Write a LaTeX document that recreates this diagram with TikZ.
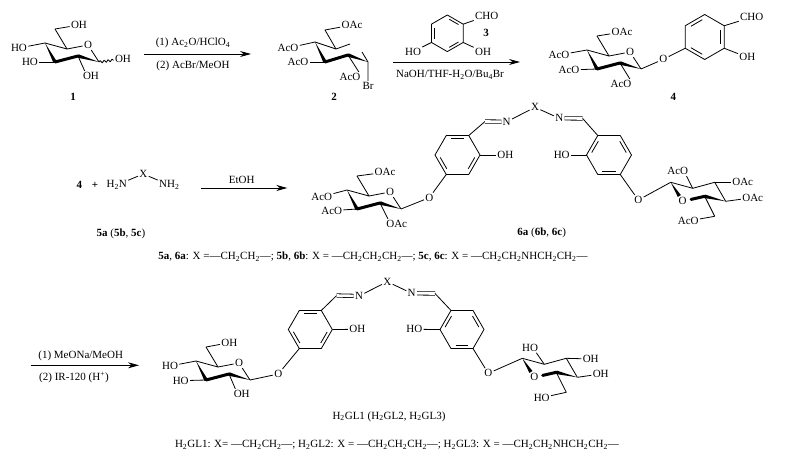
\documentclass[tikz,border=0pt]{standalone}
\usepackage{fontspec}
\setmainfont{Liberation Serif}
\usepackage{tikz}
\usetikzlibrary{calc,arrows.meta,decorations.pathmorphing}
\newcommand{\sbs}[1]{\textsubscript{#1}}
\tikzset{
	atom/.style={draw=none,font=\fontsize{11}{13}\selectfont,inner sep=1pt},
	tag/.style={draw=none,font=\fontsize{11}{13}\selectfont\bfseries,inner sep=1pt},
	caption/.style={draw=none,font=\fontsize{11}{13}\selectfont,inner sep=0pt},
	directed/.style={arrows={-Stealth[length=11pt,width=6pt]},line width=.9pt},
	wavy/.style={decorate,decoration={snake,amplitude=1.2pt,segment length=4pt}},
	thickbond/.style={line width=3pt,line cap=round},
	doublebond/.style={double,double distance=2.6pt,line width=.8pt}
}
\newcommand{\wedgebond}[2]{\fill (#1) -- ($(#2)!1.8pt!90:(#1)$) -- ($(#2)!1.8pt!-90:(#1)$) -- cycle;}
\newcommand{\aryl}[5]{
	\coordinate (#1c) at (#2);
	\foreach \i in {1,...,6} \coordinate (#1\i) at ($(#1c)+(#3+60*\i:#4)$);
	\draw (#11) -- (#12) -- (#13) -- (#14) -- (#15) -- (#16) -- cycle;
	\foreach \m/\n in {#5} \draw ($(#1\m)!.15!(#1\n)!.17!(#1c)$) -- ($(#1\n)!.15!(#1\m)!.17!(#1c)$);
}
\newcommand{\sugar}[2]{
	\coordinate (#1c3) at (#2);
	\coordinate (#1c4) at ($(#2)+(-10,-19)$);
	\coordinate (#1c5) at ($(#2)+(12,-13)$);
	\coordinate (#1c1) at ($(#2)+(44,0)$);
	\coordinate (#1c2) at ($(#2)+(23,-6)$);
	\coordinate (#1ch) at ($(#2)+(0,-33)$);
	\node[atom] (#1o) at ($(#2)+(33,-17)$) {O};
	\draw (#1c4) -- (#1c5) -- (#1o) -- (#1c1);
	\draw (#1c5) -- (#1ch);
	\wedgebond{#1c4}{#1c3}
	\wedgebond{#1c1}{#1c2}
	\draw[thickbond] (#1c2) -- (#1c3);
}
\newcommand{\sugarflip}[2]{
	\coordinate (#1a) at (#2);
	\coordinate (#1b) at ($(#2)+(22,6)$);
	\coordinate (#1c) at ($(#2)+(44,0)$);
	\coordinate (#1d) at ($(#2)+(55,19)$);
	\coordinate (#1e) at ($(#2)+(34,14)$);
	\coordinate (#1ch) at ($(#2)+(44,34)$);
	\node[atom] (#1o) at ($(#2)+(12,19)$) {O};
	\coordinate (#1w) at ($(#1a)!.72!(#1o)$);
	\coordinate (#1t) at ($(#1o)!.38!(#1e)$);
	\draw (#1a) -- (#1b) -- (#1c) -- (#1d);
	\draw (#1e) -- (#1ch);
	\wedgebond{#1a}{#1w}
	\wedgebond{#1d}{#1e}
	\draw[thickbond] (#1t) -- (#1e);
}

\begin{document}
\begin{tikzpicture}[x=1pt,y=-1pt,line width=.8pt,line join=round]
	\useasboundingbox (0,0) rectangle (787,460);

	\sugar{sa}{55,62}
	\node[atom] (saoh) at (79,25) {OH};
	\node[atom] (sao4) at (19,48) {HO};
	\node[atom] (sao3) at (30,62) {HO};
	\node[atom] (sao2) at (91,76) {OH};
	\node[atom] (sao1) at (123,59) {OH};
	\node[tag] (lab1) at (73,97) {1};
	\draw (sach) -- (saoh);
	\draw (sac4) -- (sao4);
	\draw (sac3) -- (sao3);
	\draw (sac2) -- ([xshift=3pt]sao2.north west);
	\draw[wavy] (sac1) -- (sao1);

	\coordinate (ar1s) at (144,54);
	\coordinate (ar1e) at (251,54);
	\draw[directed] (ar1s) -- (ar1e);
	\node[atom] (ar1u) at (193,43) {(1) Ac\sbs{2}O/HClO\sbs{4}};
	\node[atom] (ar1d) at (193,66) {(2) AcBr/MeOH};

	\coordinate (bc3) at (325,62);
	\coordinate (bc4) at (315,42);
	\coordinate (bc5) at (336,49);
	\coordinate (bc2) at (348,55);
	\coordinate (bc1) at (368,62);
	\coordinate (bx5) at (350,44);
	\coordinate (bx1) at (362,52);
	\coordinate (bch) at (325,30);
	\node[atom] (boac) at (352,25) {OAc};
	\node[atom] (bo4) at (288,48) {AcO};
	\node[atom] (bo3) at (298,62) {AcO};
	\node[atom] (bo2) at (350,77) {AcO};
	\node[atom] (bbr) at (368,86) {Br};
	\node[tag] (lab2) at (334,97) {2};
	\draw (bc4) -- (bc5) -- (bx5);
	\draw (bc5) -- (bch) -- (boac);
	\draw (bx1) -- (bc1) -- (bbr);
	\wedgebond{bc4}{bc3}
	\wedgebond{bc1}{bc2}
	\draw[thickbond] (bc2) -- (bc3);
	\draw (bc4) -- (bo4);
	\draw (bc3) -- (bo3);
	\draw (bc2) -- ([xshift=-3pt]bo2.north east);

	\aryl{ra}{447.3,33.3}{-30}{18.3}{3/4,5/6,1/2}
	\node[atom] (racho) at (486.7,16) {CHO};
	\node[atom] (raho) at (413,51.7) {HO};
	\node[atom] (raoh) at (483,51.7) {OH};
	\node[tag] (lab3) at (486,33) {3};
	\draw (ra6) -- (racho);
	\draw (ra3) -- (raho);
	\draw (ra1) -- (raoh);

	\coordinate (ar2s) at (393,62);
	\coordinate (ar2e) at (520,62);
	\draw[directed] (ar2s) -- (ar2e);
	\node[atom] (ar2d) at (450,75) {NaOH/THF-H\sbs{2}O/Bu\sbs{4}Br};

	\sugar{sb}{597,69}
	\node[atom] (sboac) at (622,32) {OAc};
	\node[atom] (sbo4) at (559,55) {AcO};
	\node[atom] (sbo3) at (569,70) {AcO};
	\node[atom] (sbo2) at (621,84) {AcO};
	\node[atom] (sbol) at (663.3,59.3) {O};
	\draw (sbch) -- (sboac);
	\draw (sbc4) -- (sbo4);
	\draw (sbc3) -- (sbo3);
	\draw (sbc2) -- ([xshift=-3pt]sbo2.north east);
	\draw (sbc1) -- (sbol);
	\aryl{rb}{704.7,37}{-30}{22.5}{4/5,6/1,2/3}
	\node[atom] (rbcho) at (751.7,17.3) {CHO};
	\node[atom] (rboh) at (747.3,57.3) {OH};
	\node[tag] (lab4) at (673.3,97.3) {4};
	\draw (sbol) -- (rb3);
	\draw (rb6) -- (rbcho);
	\draw (rb1) -- (rboh);

	\node[tag] (lab4b) at (79.3,185) {4};
	\node[tag] (plus) at (95,185) {+};
	\node[atom] (dian) at (116.7,185) {H\sbs{2}N};
	\node[atom] (diax) at (143.3,174) {X};
	\node[atom] (diam) at (169.3,185) {NH\sbs{2}};
	\draw (dian) -- (diax) -- (diam);
	\node[atom] (lab5) at (121,234) {\textbf{5a} (\textbf{5b}, \textbf{5c})};

	\coordinate (ar3s) at (201.3,188);
	\coordinate (ar3e) at (287.3,188);
	\draw[directed] (ar3s) -- (ar3e);
	\node[atom] (ar3u) at (241.7,180) {EtOH};

	\sugar{sc}{357,209}
	\node[atom] (scoac) at (385,172.3) {OAc};
	\node[atom] (sco4) at (321.7,196.7) {AcO};
	\node[atom] (sco3) at (331.7,210.7) {AcO};
	\node[atom] (sco2) at (396.7,224) {OAc};
	\node[atom] (scol) at (429.3,197.7) {O};
	\draw (scch) -- (scoac);
	\draw (scc4) -- (sco4);
	\draw (scc3) -- (sco3);
	\draw (scc2) -- ([xshift=3pt]sco2.north west);
	\draw (scc1) -- (scol);
	\aryl{rc}{457.5,155}{0}{22.5}{3/2,1/6,4/5}
	\node[atom] (rcoh) at (505.3,155) {OH};
	\node[atom] (rcn) at (506.7,121.7) {N};
	\coordinate (rcch) at (485,121.5);
	\draw (scol) -- (rc2);
	\draw (rc6) -- (rcoh);
	\draw (rc5) -- (rcch);
	\draw[doublebond] (rcch) -- (rcn);

	\node[atom] (linkc) at (535,107.3) {X};
	\draw (rcn) -- (linkc);

	\aryl{rd}{609,155}{0}{22.5}{3/4,5/6,2/1}
	\node[atom] (rdho) at (561.7,155) {HO};
	\node[atom] (rdn) at (559.3,118.3) {N};
	\coordinate (rdch) at (582.7,118.5);
	\draw (linkc) -- (rdn);
	\draw[doublebond] (rdn) -- (rdch);
	\draw (rdch) -- (rd4);
	\draw (rd3) -- (rdho);
	\node[atom] (rdol) at (638.3,200) {O};
	\draw (rd1) -- (rdol);

	\sugarflip{sd}{670.7,182.3}
	\node[atom] (sdo1) at (677.7,171) {AcO};
	\node[atom] (sdo2) at (742.7,182.3) {OAc};
	\node[atom] (sdo3) at (752.7,197.7) {OAc};
	\node[atom] (sdoac) at (688.3,221) {AcO};
	\draw (rdol) -- (sda);
	\draw (sdb) -- ([xshift=-3pt]sdo1.south east);
	\draw (sdc) -- (sdo2);
	\draw (sdd) -- (sdo3);
	\draw (sdch) -- (sdoac);
	\node[atom] (lab6) at (541.7,233.3) {\textbf{6a} (\textbf{6b}, \textbf{6c})};
	\node[caption] (cap1) at (373,257) {\textbf{5a}, \textbf{6a}: X =—CH\sbs{2}CH\sbs{2}—; \textbf{5b}, \textbf{6b}: X = —CH\sbs{2}CH\sbs{2}CH\sbs{2}—; \textbf{5c}, \textbf{6c}: X = —CH\sbs{2}CH\sbs{2}NHCH\sbs{2}CH\sbs{2}—};

	\coordinate (ar4s) at (30.7,365.3);
	\coordinate (ar4e) at (139,365.3);
	\draw[directed] (ar4s) -- (ar4e);
	\node[atom] (ar4u) at (80.7,355.7) {(1) MeONa/MeOH};
	\node[atom] (ar4d) at (74,377.3) {(2) IR-120 (H\textsuperscript{+})};

	\sugar{se}{206,380}
	\node[atom] (seoh) at (229.3,342.7) {OH};
	\node[atom] (seo4) at (170,366) {HO};
	\node[atom] (seo3) at (180.7,380.7) {HO};
	\node[atom] (seo2) at (241.7,394) {OH};
	\node[atom] (seol) at (278.3,374) {O};
	\draw (sech) -- (seoh);
	\draw (sec4) -- (seo4);
	\draw (sec3) -- (seo3);
	\draw (sec2) -- ([xshift=3pt]seo2.north west);
	\draw (sec1) -- (seol);
	\aryl{re}{310.3,329.5}{0}{22}{3/2,1/6,4/5}
	\node[atom] (reoh) at (357.3,329.3) {OH};
	\node[atom] (ren) at (359,296) {N};
	\coordinate (rech) at (336.7,295.5);
	\draw (seol) -- (re2);
	\draw (re6) -- (reoh);
	\draw (re5) -- (rech);
	\draw[doublebond] (rech) -- (ren);

	\node[atom] (linke) at (387.3,281.7) {X};
	\draw (ren) -- (linke);

	\aryl{rf}{462,329.5}{0}{22}{3/4,5/6,2/1}
	\node[atom] (rfho) at (414.3,329.3) {HO};
	\node[atom] (rfn) at (411.7,293.3) {N};
	\coordinate (rfch) at (435,293.5);
	\draw (linke) -- (rfn);
	\draw[doublebond] (rfn) -- (rfch);
	\draw (rfch) -- (rf4);
	\draw (rf3) -- (rfho);
	\node[atom] (rfol) at (488.3,373.3) {O};
	\draw (rf1) -- (rfol);

	\sugarflip{sf}{522.3,358.3}
	\node[atom] (sfo1) at (530,347.7) {HO};
	\node[atom] (sfo2) at (590.7,359) {OH};
	\node[atom] (sfo3) at (600.7,374) {OH};
	\node[atom] (sfoac) at (541.7,397.7) {HO};
	\draw (rfol) -- (sfa);
	\draw (sfb) -- ([xshift=-3pt]sfo1.south east);
	\draw (sfc) -- (sfo2);
	\draw (sfd) -- (sfo3);
	\draw (sfch) -- (sfoac);
	\node[atom] (lab7) at (389,416.7) {H\sbs{2}GL1 (H\sbs{2}GL2, H\sbs{2}GL3)};
	\node[caption] (cap2) at (397,445) {H\sbs{2}GL1: X= —CH\sbs{2}CH\sbs{2}—; H\sbs{2}GL2: X = —CH\sbs{2}CH\sbs{2}CH\sbs{2}—; H\sbs{2}GL3: X = —CH\sbs{2}CH\sbs{2}NHCH\sbs{2}CH\sbs{2}—};
\end{tikzpicture}
\end{document}
